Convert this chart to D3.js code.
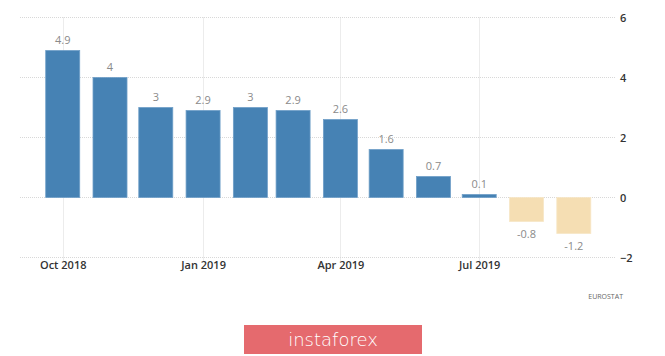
<!DOCTYPE html>
<html><head><meta charset="utf-8">
<script src="https://cdn.jsdelivr.net/npm/d3@7"></script>
<style>body{margin:0;background:#fff;}svg{display:block;font-family:"Open Sans",sans-serif;}</style>
</head><body>
<script>
const months = ["2018-10","2018-11","2018-12","2019-01","2019-02","2019-03","2019-04","2019-05","2019-06","2019-07","2019-08","2019-09"];
const values = [4.9,4,3,2.9,3,2.9,2.6,1.6,0.7,0.1,-0.8,-1.2];
const valueLabels = ["4.9","4","3","2.9","3","2.9","2.6","1.6","0.7","0.1","-0.8","-1.2"];
const yTicks = [-2,0,2,4,6];
const xTickDates = ["2018-10","2019-01","2019-04","2019-07"];
const xTickLabels = ["Oct 2018","Jan 2019","Apr 2019","Jul 2019"];
const source = "EUROSTAT";
const brand = "instaforex";

const W=665,H=356;
const parse = d3.timeParse("%Y-%m");
const svg = d3.select("body").append("svg").attr("width",W).attr("height",H);
const x = d3.scaleTime().domain([new Date(2018,8,3), new Date(2019,8,28)]).range([20,615]);
const y = d3.scaleLinear().domain([-2,6]).range([257.5,17.5]);

// horizontal gridlines
svg.append("g").selectAll("line").data(yTicks).join("line")
  .attr("x1",20).attr("x2",615).attr("y1",d=>y(d)).attr("y2",d=>y(d))
  .attr("stroke","#d8d8d8").attr("stroke-width",1).attr("stroke-dasharray","1,1");
// vertical gridlines
svg.append("g").selectAll("line").data(xTickDates).join("line")
  .attr("x1",d=>Math.round(x(parse(d)))+0.5).attr("x2",d=>Math.round(x(parse(d)))+0.5)
  .attr("y1",y(6)).attr("y2",y(-2)+4)
  .attr("stroke","#d8d8d8").attr("stroke-width",1).attr("stroke-dasharray","1,1");

// y axis labels (right)
const yAxis = d3.axisRight(y).tickValues(yTicks).tickSize(0).tickPadding(0).tickFormat(d3.format("d"));
const ya = svg.append("g").attr("transform","translate(620,0)").call(yAxis);
ya.select(".domain").remove();
ya.selectAll("text").attr("font-size",11).attr("font-weight",600).attr("fill","#333").attr("font-family","'Open Sans',sans-serif");

// x axis labels
const xAxis = d3.axisBottom(x).tickValues(xTickDates.map(parse)).tickSize(0).tickPadding(0)
  .tickFormat((d,i)=>xTickLabels[i]);
const xa = svg.append("g").attr("transform","translate(0,261)").call(xAxis);
xa.select(".domain").remove();
xa.selectAll("text").attr("font-size",11).attr("font-weight",600).attr("fill","#333").attr("font-family","'Open Sans',sans-serif");

// bars
const bw = 34;
const data = months.map((m,i)=>({d:parse(m),v:values[i],l:valueLabels[i]}));
svg.append("g").selectAll("rect").data(data).join("rect")
  .attr("x",d=>x(d.d)-bw/2).attr("width",bw)
  .attr("y",d=>y(Math.max(0,d.v))).attr("height",d=>Math.abs(y(d.v)-y(0)))
  .attr("fill",d=>d.v>=0?"#4682b4":"#f5deb3")
  .attr("stroke",d=>d.v>=0?"#6f9fc8":"#f7e6c6").attr("stroke-width",0.8);

// value labels
svg.append("g").selectAll("text").data(data).join("text")
  .attr("x",d=>x(d.d)).attr("y",d=>d.v>=0? y(d.v)-7 : y(d.v)+16)
  .attr("text-anchor","middle").attr("font-size",11).attr("fill","#8a8a8a")
  .text(d=>d.l);

// source
svg.append("text").attr("x",623).attr("y",299).attr("text-anchor","end")
  .attr("font-size",7).attr("fill","#666").text(source);

// brand banner
svg.append("rect").attr("x",244).attr("y",325).attr("width",178).attr("height",29).attr("fill","#e56a6e");
svg.append("text").attr("x",333).attr("y",346).attr("text-anchor","middle")
  .attr("font-size",18).attr("fill","#fff").attr("font-family","'DejaVu Sans',sans-serif").attr("font-weight",300).text(brand);
</script>
</body></html>
